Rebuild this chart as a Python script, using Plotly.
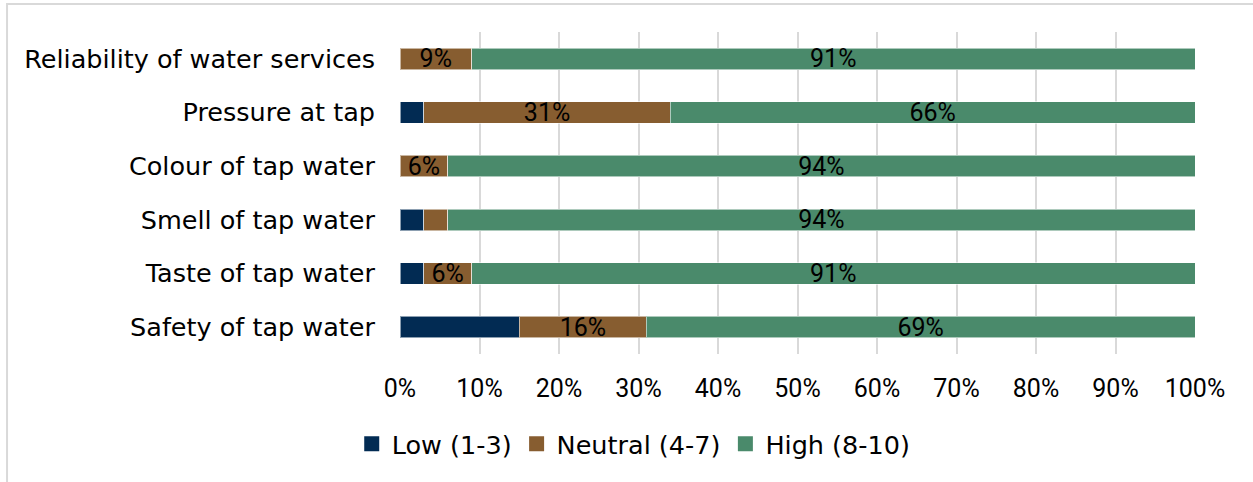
import plotly.graph_objects as go

# Survey satisfaction ratings by aspect of the water service (percent of respondents)
categories = [
    "Reliability of water services",
    "Pressure at tap",
    "Colour of tap water",
    "Smell of tap water",
    "Taste of tap water",
    "Safety of tap water",
]
low = [0, 3, 0, 3, 3, 15]
neutral = [9, 31, 6, 3, 6, 16]
high = [91, 66, 94, 94, 91, 69]

# Which segments carry a printed value
show_low = [False, False, False, False, False, False]
show_neutral = [True, True, True, False, True, True]
show_high = [True, True, True, True, True, True]

tick_vals = [0, 10, 20, 30, 40, 50, 60, 70, 80, 90, 100]
tick_text = [f"{v}%" for v in tick_vals]

series_names = ["Low (1-3)", "Neutral (4-7)", "High (8-10)"]
series_colors = ["#022b53", "#875d30", "#4a8a6b"]
series_values = [low, neutral, high]
series_shown = [show_low, show_neutral, show_high]

TEXT_FONT = "DejaVu Sans"
NUM_FONT = "Roboto"

fig = go.Figure()
for name, vals, shown, color in zip(series_names, series_values, series_shown, series_colors):
    fig.add_trace(go.Bar(
        y=categories,
        x=vals,
        name=name,
        orientation="h",
        showlegend=False,
        marker=dict(color=color, line=dict(color="rgba(255,255,255,0.55)", width=1)),
        text=[f"{v}%" if s else "" for v, s in zip(vals, shown)],
        textposition="inside",
        insidetextanchor="middle",
        textangle=0,
        textfont=dict(family=NUM_FONT, size=25, color="#000000"),
        hoverinfo="skip",
    ))

# legend keys drawn as square swatches
for name, color in zip(series_names, series_colors):
    fig.add_trace(go.Scatter(
        x=[None], y=[None], mode="markers", name=name,
        marker=dict(symbol="square", size=15, color=color),
        hoverinfo="skip",
    ))

# light frame around the chart area
fig.add_shape(
    type="rect", xref="paper", yref="paper",
    x0=-0.4943, x1=1.09, y0=-0.45, y1=1.087,
    line=dict(color="#d9d9d9", width=2), fillcolor="rgba(0,0,0,0)", layer="below",
)

fig.update_layout(
    barmode="stack",
    bargap=0.6,
    width=1253,
    height=482,
    margin=dict(l=400, r=58, t=32, b=128),
    paper_bgcolor="white",
    plot_bgcolor="white",
    font=dict(family=TEXT_FONT, size=25, color="#000000"),
    uniformtext=dict(minsize=25, mode="show"),
    showlegend=True,
    legend=dict(
        orientation="h",
        x=0.294, xanchor="center",
        y=-0.28, yanchor="middle",
        font=dict(family=TEXT_FONT, size=25.5, color="#000000"),
        traceorder="normal",
        itemwidth=30,
    ),
    xaxis=dict(
        range=[0, 100],
        tickvals=tick_vals,
        ticktext=tick_text,
        showgrid=True,
        gridcolor="#d9d9d9",
        gridwidth=2,
        zeroline=False,
        showline=False,
        ticks="",
        ticklabelstandoff=17,
        tickfont=dict(family=NUM_FONT, size=25, color="#000000"),
    ),
    yaxis=dict(
        autorange="reversed",
        showgrid=False,
        showline=False,
        ticks="",
        ticklabelstandoff=24,
        tickfont=dict(family=TEXT_FONT, size=25.5, color="#000000"),
    ),
)

fig.write_html("out.html")
